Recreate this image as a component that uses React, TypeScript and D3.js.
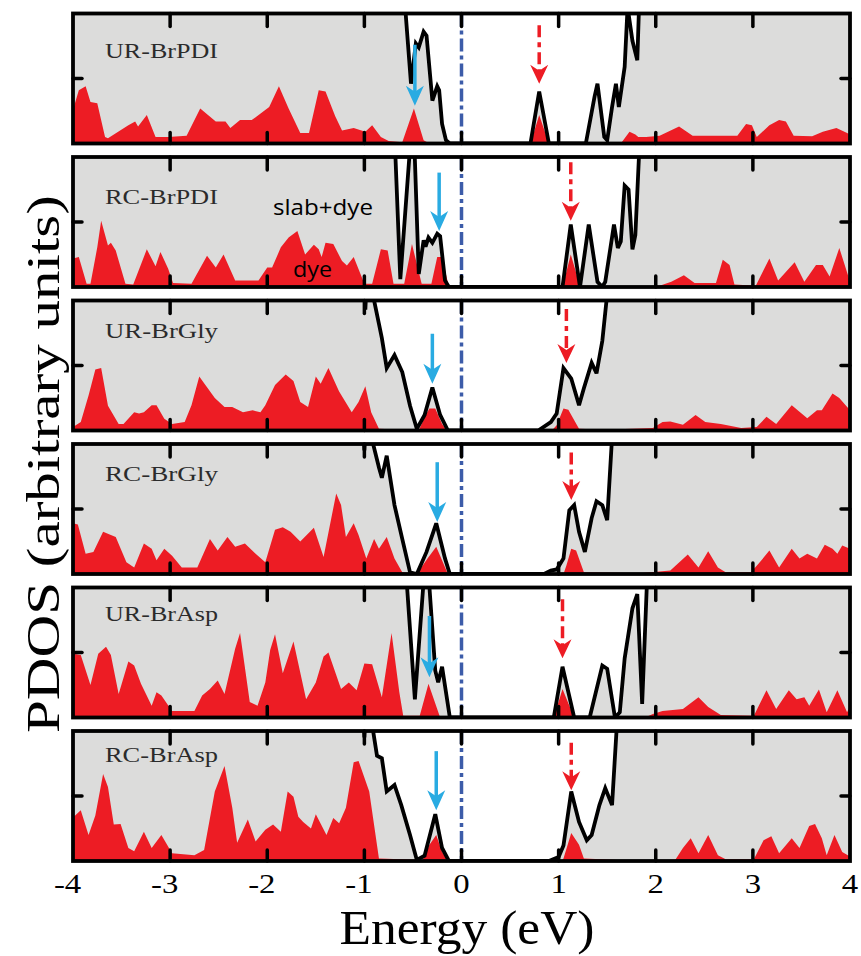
import React from 'react';
import * as d3 from 'd3';

type P = [number, number];

const energyTicks = [-4, -3, -2, -1, 0, 1, 2, 3, 4];
const panelNames = ['UR-BrPDI', 'RC-BrPDI', 'UR-BrGly', 'RC-BrGly', 'UR-BrAsp', 'RC-BrAsp'];

// dye PDOS (energy eV, arbitrary units 0..10 = panel height)
const dyeURBrPDI: P[] = [[-4.0,2.6],[-3.94,4.1],[-3.87,4.4],[-3.82,3.2],[-3.75,3.1],[-3.67,0.5],[-3.64,0.4],[-3.43,1.4],[-3.36,1.7],[-3.33,1.3],[-3.24,2.2],[-3.15,0.5],[-3.02,0.5],[-2.83,0.6],[-2.69,2.7],[-2.53,1.7],[-2.43,1.7],[-2.38,1.2],[-2.28,1.8],[-2.16,1.8],[-1.98,2.8],[-1.88,4.4],[-1.78,2.7],[-1.66,0.8],[-1.57,0.8],[-1.47,4.1],[-1.40,4.0],[-1.30,2.1],[-1.23,1.0],[-1.11,1.2],[-0.99,0.9],[-0.92,1.4],[-0.83,0.5],[-0.75,0.2],[-0.61,0.1],[-0.49,2.7],[-0.39,0.25],[-0.33,0],[0.71,0],[0.80,2.2],[0.90,0],[1.64,0],[1.73,0.9],[1.79,0.7],[1.82,0.5],[1.90,0.5],[2.04,0.6],[2.24,1.3],[2.38,0.6],[2.84,0.6],[2.93,1.5],[2.99,1.4],[3.04,0.5],[3.17,1.4],[3.27,1.8],[3.34,1.7],[3.42,0.6],[3.61,0.55],[3.72,0.9],[3.86,1.2],[3.97,0.8],[4.0,0.7]];
const dyeRCBrPDI: P[] = [[-4.0,2.2],[-3.94,2.3],[-3.86,0.25],[-3.82,0.25],[-3.75,3.05],[-3.71,5.1],[-3.64,3.2],[-3.61,3.4],[-3.56,2.8],[-3.46,0.25],[-3.38,0.2],[-3.24,2.9],[-3.15,1.6],[-3.10,2.7],[-3.02,1.4],[-2.97,0.3],[-2.78,0.25],[-2.62,2.4],[-2.53,1.5],[-2.45,2.5],[-2.33,0.5],[-2.09,0.5],[-2.00,1.5],[-1.95,1.5],[-1.86,3.05],[-1.78,3.8],[-1.69,4.3],[-1.61,2.5],[-1.52,3.25],[-1.47,2.9],[-1.44,2.3],[-1.40,3.4],[-1.32,3.3],[-1.23,2.0],[-1.18,1.65],[-1.11,2.3],[-1.04,1.0],[-1.0,0.25],[-0.92,0.25],[-0.83,2.9],[-0.76,2.8],[-0.70,0.25],[-0.59,0.25],[-0.51,3.3],[-0.41,0.25],[-0.31,0.25],[-0.25,2.3],[-0.20,2.3],[-0.13,0],[1.04,0],[1.125,2.5],[1.22,0.1],[1.90,0],[2.04,0.1],[2.16,0.4],[2.29,0.9],[2.40,0.3],[2.62,0.3],[2.69,2.1],[2.76,1.7],[2.81,0.2],[3.03,0.1],[3.17,2.2],[3.26,0.5],[3.43,1.9],[3.53,0.4],[3.65,1.7],[3.72,1.7],[3.79,0.8],[3.89,3.0],[3.99,0.65],[4.0,0.6]];
const dyeURBrGly: P[] = [[-4.0,0.26],[-3.92,0.65],[-3.84,2.7],[-3.77,4.7],[-3.71,4.8],[-3.64,1.9],[-3.53,0.5],[-3.48,0.5],[-3.37,1.4],[-3.32,1.3],[-3.27,1.4],[-3.19,1.95],[-3.14,1.95],[-3.06,0.9],[-2.98,0.5],[-2.85,0.65],[-2.78,1.95],[-2.70,4.15],[-2.54,2.5],[-2.44,1.8],[-2.36,1.8],[-2.25,1.4],[-2.15,1.55],[-2.07,1.4],[-2.02,1.95],[-1.92,3.5],[-1.81,4.3],[-1.73,3.8],[-1.66,2.2],[-1.58,1.8],[-1.50,4.15],[-1.45,3.6],[-1.37,4.8],[-1.26,3.0],[-1.13,1.4],[-1.06,2.2],[-0.99,3.4],[-0.93,1.4],[-0.85,0.13],[-0.44,0],[-0.37,1.2],[-0.33,1.7],[-0.27,1.7],[-0.20,0.5],[-0.15,0],[0.93,0],[0.98,0.4],[1.05,1.7],[1.10,1.6],[1.21,0.13],[1.47,0.05],[1.97,0.2],[2.07,0.65],[2.15,0.7],[2.28,0.45],[2.41,1.2],[2.51,0.65],[2.67,0.5],[2.88,0.2],[3.04,0.26],[3.14,1.05],[3.24,0.5],[3.40,1.95],[3.56,0.95],[3.66,1.55],[3.71,1.55],[3.82,2.85],[3.89,2.5],[4.0,1.55]];
const dyeRCBrGly: P[] = [[-4.0,3.9],[-3.95,3.8],[-3.87,1.55],[-3.79,1.7],[-3.69,3.25],[-3.61,3.0],[-3.56,2.85],[-3.45,0.9],[-3.37,0.5],[-3.27,2.35],[-3.19,1.95],[-3.14,1.05],[-3.06,1.95],[-2.98,1.4],[-2.88,0.5],[-2.72,0.5],[-2.59,2.7],[-2.51,1.8],[-2.41,2.85],[-2.33,2.1],[-2.23,2.35],[-2.12,1.55],[-2.02,0.9],[-1.92,3.4],[-1.84,3.6],[-1.76,3.25],[-1.66,2.5],[-1.52,3.55],[-1.42,1.3],[-1.29,6.2],[-1.24,5.3],[-1.19,2.85],[-1.11,3.9],[-1.06,3.0],[-0.98,1.2],[-0.90,2.7],[-0.85,1.95],[-0.77,2.85],[-0.69,1.2],[-0.61,0.13],[-0.46,0],[-0.35,1.2],[-0.26,2.1],[-0.14,0],[1.05,0],[1.08,0.65],[1.13,1.95],[1.18,1.8],[1.26,0.13],[1.84,0.05],[2.15,0.26],[2.33,1.5],[2.44,0.5],[2.54,1.75],[2.64,0.5],[2.72,0.13],[2.98,0.13],[3.06,0.8],[3.17,1.8],[3.27,0.5],[3.40,1.95],[3.48,1.2],[3.56,1.55],[3.66,1.2],[3.74,2.25],[3.82,1.95],[3.87,1.55],[3.92,2.2],[4.0,1.95]];
const dyeURBrAsp: P[] = [[-4.0,4.9],[-3.92,4.8],[-3.82,2.5],[-3.74,4.9],[-3.66,5.45],[-3.61,4.8],[-3.53,1.8],[-3.43,4.3],[-3.37,4.0],[-3.30,2.6],[-3.19,0.9],[-3.14,1.95],[-3.09,1.7],[-2.98,0.5],[-2.75,0.5],[-2.67,1.7],[-2.59,2.2],[-2.51,2.85],[-2.44,1.8],[-2.33,5.3],[-2.28,6.5],[-2.18,1.2],[-2.10,0.9],[-2.02,2.7],[-1.97,5.2],[-1.92,6.4],[-1.84,3.4],[-1.73,5.85],[-1.60,1.4],[-1.50,2.7],[-1.42,4.7],[-1.37,5.0],[-1.24,2.2],[-1.16,2.7],[-1.08,2.1],[-1.00,4.15],[-0.92,4.1],[-0.82,1.55],[-0.72,6.5],[-0.64,1.95],[-0.60,0.13],[-0.43,0.13],[-0.34,2.6],[-0.22,0],[0.95,0],[1.04,2.2],[1.16,0],[1.89,0],[1.97,0.26],[2.07,0.5],[2.28,0.65],[2.44,1.55],[2.54,0.8],[2.67,0.2],[3.01,0.13],[3.14,2.1],[3.24,0.65],[3.37,2.1],[3.45,1.4],[3.53,1.55],[3.58,0.9],[3.68,2.15],[3.76,0.4],[3.87,2.1],[3.97,0.4],[4.0,0.9]];
const dyeRCBrAsp: P[] = [[-4.0,3.35],[-3.92,3.9],[-3.84,2.0],[-3.77,3.5],[-3.69,6.7],[-3.64,5.7],[-3.58,2.8],[-3.51,2.85],[-3.43,1.0],[-3.37,0.75],[-3.27,2.25],[-3.19,1.0],[-3.09,2.0],[-2.98,0.6],[-2.75,0.45],[-2.65,0.85],[-2.54,5.35],[-2.44,7.3],[-2.36,4.1],[-2.31,1.4],[-2.20,3.2],[-2.12,1.5],[-2.02,2.4],[-1.94,2.8],[-1.86,2.25],[-1.79,5.35],[-1.73,4.95],[-1.68,3.4],[-1.63,3.0],[-1.55,2.5],[-1.50,3.6],[-1.39,2.0],[-1.32,3.3],[-1.26,2.9],[-1.19,4.1],[-1.11,7.6],[-1.06,7.7],[-0.95,5.35],[-0.85,0.2],[-0.40,0.08],[-0.33,1.25],[-0.26,2.0],[-0.20,0.7],[-0.14,0],[1.03,0],[1.05,0.2],[1.13,2.15],[1.21,1.25],[1.26,0.2],[1.84,0],[2.20,0.08],[2.28,1.0],[2.36,1.75],[2.44,0.6],[2.54,2.0],[2.64,0.45],[2.72,0.13],[3.01,0.13],[3.11,1.6],[3.19,1.9],[3.27,0.6],[3.40,1.75],[3.48,1.0],[3.58,2.7],[3.64,2.85],[3.71,1.75],[3.76,0.45],[3.84,2.0],[3.92,0.7],[4.0,0.35]];

// total DOS slab+dye (values above 10 run off the top of the panel)
const totURBrPDI: P[] = [[-4,30],[-0.62,14],[-0.575,10],[-0.52,4.6],[-0.47,7.7],[-0.44,7.4],[-0.39,8.6],[-0.36,8.3],[-0.30,3.3],[-0.25,4.4],[-0.23,4.1],[-0.20,1.5],[-0.16,0.25],[-0.12,0],[0.71,0],[0.80,4.0],[0.90,0],[1.28,0],[1.37,3.6],[1.40,4.6],[1.47,0.5],[1.50,0.25],[1.55,2.8],[1.59,4.6],[1.62,2.8],[1.68,5.9],[1.71,10.5],[1.76,7.9],[1.81,6.4],[1.83,11],[1.9,30],[4,30]];
const totRCBrPDI: P[] = [[-4,30],[-0.72,14],[-0.68,10],[-0.63,0.6],[-0.54,9.7],[-0.52,12],[-0.49,12],[-0.44,1.0],[-0.39,3.6],[-0.37,3.1],[-0.34,3.8],[-0.30,3.4],[-0.25,4.1],[-0.22,3.9],[-0.17,0.5],[-0.13,0],[1.04,0],[1.125,4.8],[1.22,0],[1.31,4.8],[1.40,0.4],[1.45,0],[1.48,0.4],[1.57,4.8],[1.61,3.0],[1.64,3.5],[1.68,7.8],[1.72,7.5],[1.76,2.9],[1.79,4.0],[1.83,10.5],[1.88,30],[4,30]];
const totURBrGly: P[] = [[-4,30],[-1.03,14],[-0.99,9.3],[-0.96,14],[-0.92,12],[-0.90,10],[-0.85,8.2],[-0.82,7.1],[-0.77,4.8],[-0.69,5.8],[-0.61,4.5],[-0.53,1.9],[-0.46,0.13],[-0.38,1.2],[-0.30,3.3],[-0.22,1.2],[-0.14,0],[0.79,0],[0.92,0.65],[0.98,1.3],[1.05,4.8],[1.13,4.0],[1.21,1.95],[1.26,3.25],[1.34,5.2],[1.39,4.4],[1.45,6.9],[1.50,10.5],[1.55,30],[4,30]];
const totRCBrGly: P[] = [[-4,30],[-1.03,14],[-1.0,9.5],[-0.97,14],[-0.93,12],[-0.91,10],[-0.85,8.2],[-0.82,7.4],[-0.77,9.1],[-0.69,5.3],[-0.61,2.7],[-0.53,0.13],[-0.46,0],[-0.36,1.7],[-0.26,3.9],[-0.17,1.2],[-0.12,0],[0.85,0],[0.92,0.26],[0.98,0.35],[1.05,1.2],[1.11,4.9],[1.16,5.3],[1.21,3.25],[1.27,1.7],[1.34,4.3],[1.39,5.6],[1.45,5.3],[1.50,4.15],[1.55,10.5],[1.6,30],[4,30]];
const totURBrAsp: P[] = [[-4,30],[-0.60,14],[-0.56,10],[-0.48,1.4],[-0.39,10.5],[-0.37,14],[-0.35,14],[-0.33,10],[-0.27,3.6],[-0.24,2.7],[-0.20,3.9],[-0.12,0],[0.95,0],[1.04,3.9],[1.16,0],[1.32,0],[1.45,4.0],[1.50,3.75],[1.58,0],[1.63,0.4],[1.68,4.55],[1.76,8.4],[1.81,9.5],[1.86,1.05],[1.91,10.5],[1.95,30],[4,30]];
const totRCBrAsp: P[] = [[-4,30],[-1.03,14],[-1.0,9.5],[-0.97,14],[-0.93,12],[-0.91,10],[-0.87,8.1],[-0.82,7.9],[-0.77,5.35],[-0.69,5.85],[-0.62,4.3],[-0.53,2.0],[-0.46,0.08],[-0.38,0.4],[-0.27,3.6],[-0.20,1.0],[-0.13,0],[0.90,0],[1.0,0.3],[1.05,1.2],[1.13,5.35],[1.21,3.0],[1.29,1.6],[1.34,2.0],[1.42,4.3],[1.48,5.6],[1.55,4.3],[1.60,10.5],[1.65,30],[4,30]];

// arrows: [energy, start value, tip value]
const homoArrows: [number, number, number][] = [[-0.48,7.6,2.9],[-0.23,8.8,4.3],[-0.30,7.45,3.6],[-0.25,8.6,4.0],[-0.33,7.8,3.1],[-0.26,8.45,3.9]];
const lumoArrows: [number, number, number][] = [[0.80,9.1,4.6],[1.125,9.6,5.1],[1.08,9.35,5.2],[1.13,9.35,5.7],[1.04,9.1,4.55],[1.13,9.1,5.45]];

const dyeSeries = [dyeURBrPDI, dyeRCBrPDI, dyeURBrGly, dyeRCBrGly, dyeURBrAsp, dyeRCBrAsp];
const totalSeries = [totURBrPDI, totRCBrPDI, totURBrGly, totRCBrGly, totURBrAsp, totRCBrAsp];
const labelOffsets = [44.5, 46.5, 37.5, 37, 33, 31];

const W = 861, H = 956;
const X0 = 73, X1 = 850;
const PTOP = 13.5, PH = 130, PSTEP = 143.5;
const GRAY = '#dcdcdb', RED = '#ed1c24', ABLUE = '#29abe2', ZBLUE = '#3c5ca9';
const SERIF = '"Liberation Serif", "Times New Roman", serif';

const x = d3.scaleLinear().domain([-4, 4]).range([X0, X1]);

function arrowHead(cx: number, tipY: number, w: number, len: number, notch: number) {
  const p = d3.path();
  p.moveTo(cx, tipY);
  p.lineTo(cx - w / 2, tipY - len);
  p.lineTo(cx, tipY - len + notch);
  p.lineTo(cx + w / 2, tipY - len);
  p.closePath();
  return p.toString();
}

function Panel({ i }: { i: number }) {
  const top = PTOP + i * PSTEP;
  const y = d3.scaleLinear().domain([0, 10]).range([top + PH, top]);
  const area = d3.area<P>().x(d => x(d[0])).y0(y(0)).y1(d => y(d[1]));
  const line = d3.line<P>().x(d => x(d[0])).y(d => y(d[1]));
  const clipId = `clip-${i}`;
  const [he, hs, ht] = homoArrows[i];
  const [le, ls, lt] = lumoArrows[i];
  const inner = energyTicks.slice(1, -1);
  return (
    <g>
      <defs>
        <clipPath id={clipId}><rect x={X0} y={top} width={X1 - X0} height={PH} /></clipPath>
      </defs>
      <rect x={X0} y={top} width={X1 - X0} height={PH} fill="#fff" />
      <g clipPath={`url(#${clipId})`}>
        <path d={area(totalSeries[i]) || ''} fill={GRAY} />
        <path d={area(dyeSeries[i]) || ''} fill={RED} />
        <path d={line(totalSeries[i]) || ''} fill="none" stroke="#000" strokeWidth={3.8} strokeLinejoin="miter" strokeMiterlimit={3} />
        <line x1={x(0)} x2={x(0)} y1={top} y2={top + PH} stroke={ZBLUE} strokeWidth={3.5} strokeDasharray="13,4,4,4" />
        {/* HOMO arrow */}
        <line x1={x(he)} x2={x(he)} y1={y(hs)} y2={y(ht) - 12} stroke={ABLUE} strokeWidth={3.5} />
        <path d={arrowHead(x(he), y(ht), 18, 20, 6)} fill={ABLUE} />
        {/* LUMO arrow */}
        <line x1={x(le)} x2={x(le)} y1={y(ls)} y2={y(lt) - 12} stroke={RED} strokeWidth={3.5} strokeDasharray="12,5,5,5" />
        <path d={arrowHead(x(le), y(lt), 18, 19, 6)} fill={RED} />
      </g>
      {/* ticks */}
      {inner.map(t => (
        <g key={t}>
          <line x1={x(t)} x2={x(t)} y1={top} y2={top + 13} stroke="#000" strokeWidth={3.5} strokeLinecap="round" />
          <line x1={x(t)} x2={x(t)} y1={top + PH} y2={top + PH - 11} stroke="#000" strokeWidth={3.5} strokeLinecap="round" />
        </g>
      ))}
      <line x1={X0} x2={X0 + 9} y1={y(5)} y2={y(5)} stroke="#000" strokeWidth={3.5} strokeLinecap="round" />
      <line x1={X1} x2={X1 - 9} y1={y(5)} y2={y(5)} stroke="#000" strokeWidth={3.5} strokeLinecap="round" />
      <rect x={X0} y={top} width={X1 - X0} height={PH} fill="none" stroke="#000" strokeWidth={3.8} />
      <text x={105} y={top + labelOffsets[i]} fontFamily={SERIF} fontSize={21} fill="#2b2b2b"
        textLength={113} lengthAdjust="spacingAndGlyphs">{panelNames[i]}</text>
    </g>
  );
}

export default function App() {
  const axisY = PTOP + 5 * PSTEP + PH;
  return (
    <svg width={W} height={H} style={{ position: 'absolute', left: 0, top: 0, background: '#fff' }}>
      {panelNames.map((_, i) => <Panel key={i} i={i} />)}
      <text x={273} y={215} fontFamily='"Open Sans", "Noto Sans", sans-serif' fontSize={21} fill="#000"
        textLength={100} lengthAdjust="spacingAndGlyphs">slab+dye</text>
      <text x={293} y={277} fontFamily='"Open Sans", "Noto Sans", sans-serif' fontSize={21} fill="#000"
        textLength={39} lengthAdjust="spacingAndGlyphs">dye</text>
      {energyTicks.map(t => (
        <g key={t} transform={`translate(${x(t) + 8.2},${axisY + 32}) scale(1.17,1)`}>
          <text x={0} y={0} textAnchor="end" fontFamily={SERIF} fontSize={28} fill="#000">{t}</text>
        </g>
      ))}
      <text x={467} y={944} textAnchor="middle" fontFamily={SERIF} fontSize={48} fill="#000"
        textLength={255} lengthAdjust="spacingAndGlyphs">Energy (eV)</text>
      <g transform="translate(59,464) rotate(-90)">
        <text x={0} y={0} textAnchor="middle" fontFamily={SERIF} fontSize={46} fill="#000"
          textLength={538} lengthAdjust="spacingAndGlyphs">PDOS (arbitrary units)</text>
      </g>
    </svg>
  );
}
